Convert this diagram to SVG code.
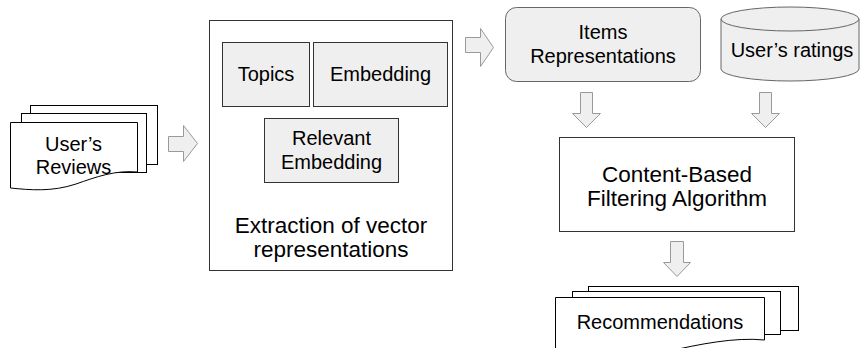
<svg xmlns="http://www.w3.org/2000/svg" width="861" height="348" viewBox="0 0 861 348">
<style>
text{font-family:"Liberation Sans",Arial,sans-serif;fill:#000;text-anchor:middle}
.t20{font-size:20px}
.t22{font-size:22.5px}
.box{fill:#fff;stroke:#333;stroke-width:1}
.gbox{fill:#efefef;stroke:#333;stroke-width:1}
.soft{fill:#efefef;stroke:#666;stroke-width:1}
.doc{fill:#fff;stroke:#000;stroke-width:1}
.arr{fill:#efefef;stroke:#999;stroke-width:1;stroke-linejoin:miter}
</style>
<rect width="861" height="348" fill="#fff"/>

<g id="users-reviews">
  <rect class="doc" x="30.5" y="105.5" width="127" height="59"/>
  <rect class="doc" x="21.5" y="113.5" width="125" height="59"/>
  <path class="doc" d="M10.5,122.5 H137.5 V172 C115,170 96,177 76,184 C52,192 30,190 10.5,188 Z"/>
  <text class="t20" x="73.5" y="151">User’s</text>
  <text class="t20" x="73.5" y="174">Reviews</text>
</g>

<g id="extraction">
  <rect class="box" x="209.5" y="20.5" width="243" height="250"/>
  <text class="t22" x="331" y="233">Extraction of vector</text>
  <text class="t22" x="331" y="257">representations</text>
</g>

<g id="topics">
  <rect class="gbox" x="222.5" y="42.5" width="87" height="64"/>
  <text class="t20" x="266" y="81">Topics</text>
</g>

<g id="embedding">
  <rect class="gbox" x="313.5" y="42.5" width="134" height="64"/>
  <text class="t20" x="380.5" y="81">Embedding</text>
</g>

<g id="relevant-embedding">
  <rect class="gbox" x="264.5" y="118.5" width="134" height="64"/>
  <text class="t20" x="331.5" y="145">Relevant</text>
  <text class="t20" x="331.5" y="169">Embedding</text>
</g>

<g id="items-representations">
  <rect class="soft" x="505.5" y="7.5" width="195" height="74" rx="11" ry="11"/>
  <text class="t20" x="603" y="39">Items</text>
  <text class="t20" x="603" y="63">Representations</text>
</g>

<g id="users-ratings">
  <path class="soft" d="M721,19 A69,12 0 0 1 859,19 V69 A69,12 0 0 1 721,69 Z"/>
  <path fill="none" stroke="#666" stroke-width="1" d="M721,19 A69,12 0 0 0 859,19"/>
  <text class="t20" x="792" y="57">User’s ratings</text>
</g>

<g id="content-based-filtering">
  <rect class="box" x="559.5" y="137.5" width="235" height="94"/>
  <text class="t22" x="677" y="182">Content-Based</text>
  <text class="t22" x="677" y="206">Filtering Algorithm</text>
</g>

<g id="recommendations">
  <rect class="doc" x="588.5" y="286.5" width="210" height="44"/>
  <rect class="doc" x="572.5" y="291.5" width="208" height="43"/>
  <path class="doc" d="M555.5,297.5 H764.5 V340 C735,337 700,344 665,352 C630,360 590,360 555.5,356 Z"/>
  <text class="t20" x="660" y="329">Recommendations</text>
</g>

<g id="connectors">
  <path class="arr" d="M168.5,136.5 H183.5 V125.5 L197.5,143.5 L183.5,161.5 V151.5 H168.5 Z"/>
  <path class="arr" d="M465.5,37.5 H480.5 V28.5 L493.5,47.5 L480.5,66.5 V52.5 H465.5 Z"/>
  <path class="arr" d="M580.5,92.5 H592.5 V113.5 H600.5 L586.5,127.5 L572.5,113.5 H580.5 Z"/>
  <path class="arr" d="M759.5,92.5 H771.5 V113.5 H779.5 L765.5,127.5 L751.5,113.5 H759.5 Z"/>
  <path class="arr" d="M670.5,241.5 H683.5 V262.5 H690.5 L677,276.5 L663.5,262.5 H670.5 Z"/>
</g>
</svg>
